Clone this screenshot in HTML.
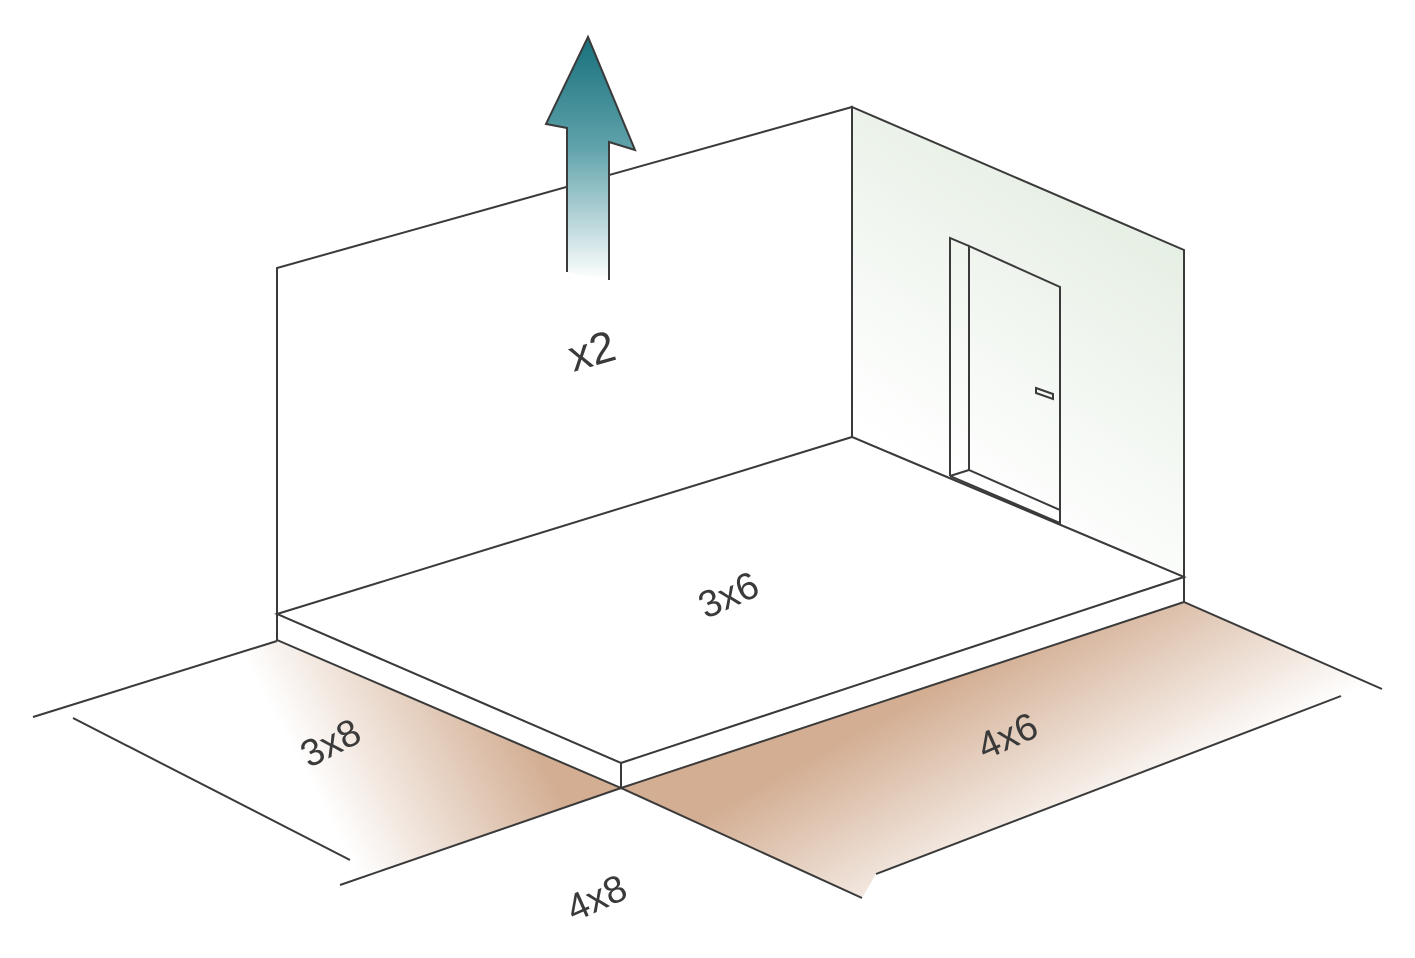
<!DOCTYPE html>
<html><head><meta charset="utf-8"><style>html,body{margin:0;padding:0;background:#fff}svg{display:block}</style></head>
<body>
<svg width="1415" height="958" viewBox="0 0 1415 958" xmlns="http://www.w3.org/2000/svg">
<defs>
<linearGradient id="ar" x1="0" y1="0" x2="0" y2="1" gradientUnits="objectBoundingBox">
<stop offset="0" stop-color="#17707c"/><stop offset="0.45" stop-color="#5fa2aa"/><stop offset="1" stop-color="#ffffff"/></linearGradient>
<linearGradient id="rw" x1="1184" y1="250" x2="1000" y2="520" gradientUnits="userSpaceOnUse">
<stop offset="0" stop-color="#e6efe4"/><stop offset="1" stop-color="#ffffff"/></linearGradient>
<linearGradient id="bl" x1="520" y1="720" x2="330" y2="820" gradientUnits="userSpaceOnUse">
<stop offset="0" stop-color="#d3ae93"/><stop offset="1" stop-color="#ffffff"/></linearGradient>
<linearGradient id="br" x1="880" y1="720" x2="980" y2="900" gradientUnits="userSpaceOnUse">
<stop offset="0" stop-color="#d3ae93"/><stop offset="1" stop-color="#ffffff"/></linearGradient>
</defs>
<g stroke="#3a3a3a" stroke-width="2" fill="none">
<polygon points="852,107 1184,250 1184,577 852,437" fill="url(#rw)"/>
<polygon points="277,641 621,788 340,885 350,860 73,718 33,717" fill="url(#bl)" stroke="none"/>
<polygon points="621,788 1184,602 1382,689 1341,696 876,874 862,898" fill="url(#br)" stroke="none"/>
<polyline points="277,614 277,268 852,107 852,437"/>
<polygon points="277,614 852,437 1184,577 621,763" fill="#fff"/>
<polygon points="277,614 621,763 621,788 277,640" fill="#fff"/>
<polygon points="621,763 1184,577 1184,602 621,788" fill="#fff"/>
<line x1="33" y1="717" x2="277" y2="641"/>
<line x1="73" y1="718" x2="350" y2="860"/>
<line x1="340" y1="885" x2="621" y2="788"/>
<line x1="621" y1="788" x2="862" y2="898"/>
<line x1="876" y1="874" x2="1341" y2="696"/>
<line x1="1184" y1="602" x2="1382" y2="689"/>
<polyline points="950,476 950,238 969,246"/>
<polygon points="969,246 1060,287 1060,510 969,470"/>
<polyline points="950,476 969,470"/>
<polyline points="950,476 1060,523 1060,510"/>
<polygon points="1036,388 1053,394 1053,399 1036,393"/>
<polygon points="567,272 567,128 546,124 588,37 635,150 609,142 609,280" fill="url(#ar)" stroke="none"/>
<polyline points="567,272 567,128 546,124 588,37 635,150 609,142 609,280"/>
</g>
<g font-family="Liberation Sans, sans-serif" fill="#3a3a3a" text-anchor="middle">
<text x="592" y="366" font-size="44" transform="rotate(-16 592 352)">x2</text>
<text x="728" y="608" font-size="38" transform="rotate(-24 728 594)">3x6</text>
<text x="330" y="756" font-size="38" transform="rotate(-27 330 742)">3x8</text>
<text x="1007" y="749" font-size="38" transform="rotate(-24 1007 735)">4x6</text>
<text x="596" y="911" font-size="38" transform="rotate(-24 596 897)">4x8</text>
</g>
</svg>
</body></html>
